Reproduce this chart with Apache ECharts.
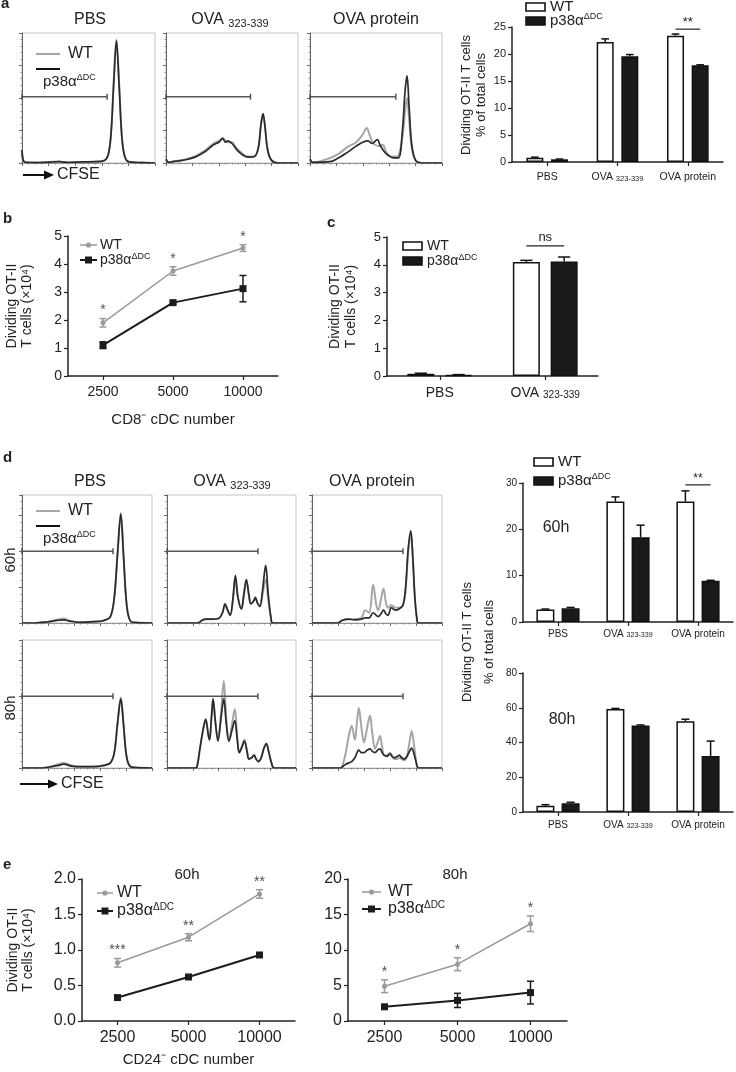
<!DOCTYPE html>
<html><head><meta charset="utf-8">
<script src="https://cdn.jsdelivr.net/npm/echarts@6/dist/echarts.min.js"></script>
<style>html,body{margin:0;padding:0;background:#fff}#c{width:736px;height:1072px}</style>
</head><body><div id="c"></div>
<script>
const FONT = '"Liberation Sans", Arial, sans-serif';
const WT_C = '#9a9a9a', KO_C = '#1c1c1c', TXT = '#222', HWT = '#a6a6a6', HKO = '#2a2a2a';

// ---------- categories / tick labels ----------
const HIST_TITLES = ['PBS', 'OVA 323-339', 'OVA protein'];
const BAR_CATS3 = ['PBS', 'OVA 323-339', 'OVA protein'];
const BAR_CATS2 = ['PBS', 'OVA 323-339'];
const DC_NUMBERS = ['2500', '5000', '10000'];

// ---------- panel a histograms (CFSE position, % of box height) ----------
const A_PBS_WT = [[0,10],[1,2],[3,0.5],[10,0.3],[20,0.8],[28,1.2],[35,0.5],[45,0.8],[55,1],[62,2],[65,7],[67,24],[69,64],[71,95],[73,62],[75,22],[77,6],[80,1],[90,0.3],[100,0]];
const A_PBS_KO = [[0,10],[1,2],[3,0.5],[10,0.3],[20,0.6],[28,1],[35,0.4],[45,0.8],[55,1],[62,2],[65,7],[67,23],[69,62],[71,94],[73,60],[75,21],[77,6],[80,1],[90,0.3],[100,0]];
const A_OVA_WT = [[0,3],[2,0.5],[5,1],[15,3],[22,5],[30,10],[36,15],[40,17],[43,19],[45,17],[47,16],[50,16],[53,12],[57,8],[62,5],[67,5],[70,12],[72,30],[73.5,37],[75,28],[77,10],[80,2],[85,0],[100,0]];
const A_OVA_KO = [[0,3],[2,0.5],[5,1],[15,2.5],[22,4.5],[30,9],[36,14],[40,16],[43,19],[45,16],[47,17],[50,15],[53,11],[57,7],[62,4.5],[67,5],[70,12],[72,30],[73.5,38],[75,28],[77,10],[80,2],[85,0],[100,0]];
const A_PROT_WT = [[0,3],[2,0.5],[10,2],[20,6],[28,12],[35,16],[40,22],[43,27],[45,22],[48,15],[52,13],[55,14],[58,8],[62,5],[66,5],[70,20],[72,40],[73.5,50],[75,35],[77,12],[80,2],[85,0],[100,0]];
const A_PROT_KO = [[0,3],[2,0.5],[15,1],[20,3],[28,8],[35,13],[40,16],[44,17],[47,15],[51,18],[53,14],[56,9],[59,6],[63,4],[67,4],[70,25],[72,55],[73.5,67],[75,45],[77,15],[80,2],[85,0],[100,0]];
const A_GATE_END = [64, 64, 65];
const A_GATE_LEVEL = 51;

// ---------- panel d histograms ----------
const D60_PBS_WT = [[0,0],[10,0],[20,1],[27,2.5],[32,3.5],[37,1.5],[45,0.5],[55,1],[63,2],[68,5],[71,20],[73.5,55],[76,86],[78,55],[80,20],[82,5],[85,0.5],[100,0]];
const D60_PBS_KO = [[0,0],[10,0],[20,1],[27,2],[32,2.5],[37,1.5],[45,0.5],[55,1],[63,2],[68,5],[71,20],[73.5,54],[76,85],[78,54],[80,20],[82,5],[85,0.5],[100,0]];
const D60_OVA_WT = [[0,0],[24,0],[27,2],[30,3],[35,3],[40,3.5],[43,8],[45,14],[47,10],[49,6],[51,17],[53,35],[55,20],[57.7,11],[59.5,21],[61.5,33],[63.5,21],[65,15],[67,17],[68.5,19],[70,16],[72,13],[74,22],[76.5,34],[78.5,18],[80.5,4],[82,0],[100,0]];
const D60_OVA_KO = [[0,0],[24,0],[27,2],[30,3],[35,3],[40,3.5],[43,8],[45,15],[47,10],[49,6],[51,18],[53,37],[55,20],[57.7,11],[59.5,22],[61.5,34],[63.5,22],[65,15],[67,17],[68.5,20],[70,16],[72,13],[74,25],[76.5,45],[78.5,22],[80.5,5],[82,0],[100,0]];
const D60_PROT_WT = [[0,0],[20,0],[23,2],[28,3],[33,3],[38,4],[41,10],[44,8],[47,30],[49.5,14],[51,10],[53,18],[55,27],[57,15],[58.5,12],[61,14],[64,12],[67,12],[70,14],[72,25],[74,55],[76,70],[77.5,52],[79,22],[80.5,5],[82,0],[100,0]];
const D60_PROT_KO = [[0,0],[20,0],[23,2],[28,3],[33,2.5],[38,3],[41,4],[44,4],[47,8],[49.5,6],[51,5],[53,7],[55,10],[57,7],[58.5,6],[61,12],[64,10],[67,11],[70,14],[72,28],[74,58],[76,72],[77.5,52],[79,22],[80.5,5],[82,0],[100,0]];
const D80_PBS_WT = [[0,0],[15,0],[22,1],[28,3],[32,4],[38,2],[45,1],[55,1],[63,2],[68,4],[71,12],[73.5,35],[76,55],[78,35],[80,12],[82,3],[85,0.5],[100,0]];
const D80_PBS_KO = [[0,0],[15,0],[22,1],[28,2],[32,3],[38,1.5],[45,1],[55,1],[63,2],[68,4],[71,12],[73.5,35],[76,54],[78,35],[80,12],[82,3],[85,0.5],[100,0]];
const D80_OVA_WT = [[0,0],[22,0],[23.5,2],[25.5,15],[28,30],[30,38],[32,26],[33,22],[34.5,40],[35.7,54],[37.5,36],[39.5,22],[42,45],[44,68],[46,38],[48,21],[50.5,35],[52.5,46],[54.5,24],[56,12],[58,17],[60,22],[62,14],[63.5,7],[65.5,8],[67.5,10],[69,7],[71,5],[73,8],[75,15],[77,19],[79,12],[81,4],[83,0],[100,0]];
const D80_OVA_KO = [[0,0],[22,0],[23.5,2],[25.5,15],[28,30],[30,38],[32,26],[33,22],[34.5,40],[35.7,54],[37.5,36],[39.5,21],[42,40],[44,54],[46,34],[48,21],[50.5,30],[52.5,37],[54.5,22],[56,12],[58,16],[60,21],[62,13],[63.5,7],[65.5,8],[67.5,10],[69,7],[71,5],[73,8],[75,15],[77,19],[79,12],[81,4],[83,0],[100,0]];
const D80_PROT_WT = [[0,0],[22,0],[23.5,2],[26,12],[28.5,26],[30.5,33],[33,22],[34.5,35],[36,47],[38,32],[40,20],[42.5,32],[44.6,41],[46.5,26],[48.5,15],[50.5,20],[52.3,25],[54,16],[55.4,10],[57.5,10],[60,12],[61.7,9],[63.4,7],[65.5,7],[67.2,8],[69,7],[71,6],[73,9],[75,20],[76.7,29],[78.5,18],[80,6],[82,0],[100,0]];
const D80_PROT_KO = [[0,0],[22,0],[23.5,1],[26,3],[28.5,4],[30.5,5],[33,8],[36,14],[38,12],[40,12],[42.5,14],[44.6,15],[46.5,13],[48.5,12],[50.5,14],[52.3,15],[54,12],[55.4,10],[57.5,9],[60,11],[61.7,9],[63.4,8],[65.5,9],[67.2,10],[69,8],[71,7],[73,9],[75,13],[76.7,15.5],[78.5,11],[80,5],[82,0],[100,0]];
const D_GATE_END = [70, 70.5, 70];
const D_GATE_LEVEL = 56;

// ---------- panel a bars ----------
const A_WT = [0.8, 22.2, 23.4];
const A_WT_ERR = [0.1, 0.6, 0.3];
const A_KO = [0.5, 19.6, 17.9];
const A_KO_ERR = [0.05, 0.3, 0.1];
const A_SIG = ['', '', '**'];
const A_SIG_LEVEL = [0, 0, 24.6];

// ---------- panel b ----------
const B_WT = [1.9, 3.75, 4.57];
const B_WT_ERR = [0.15, 0.15, 0.12];
const B_KO = [1.1, 2.62, 3.12];
const B_KO_ERR = [0.12, 0.05, 0.47];
const B_SIG = ['*', '*', '*'];

// ---------- panel c ----------
const C_WT = [0.08, 4.1];
const C_WT_ERR = [0.02, 0.06];
const C_KO = [0.04, 4.12];
const C_KO_ERR = [0.01, 0.16];
const C_SIG = ['', 'ns'];
const C_SIG_LEVEL = [0, 4.68];

// ---------- panel d bars ----------
const D60_WT = [2.7, 26.0, 26.0];
const D60_WT_ERR = [0.1, 1.0, 2.3];
const D60_KO = [2.95, 18.3, 8.9];
const D60_KO_ERR = [0.2, 2.6, 0.1];
const D60_SIG = ['', '', '**'];
const D60_SIG_LEVEL = [0, 0, 29.6];
const D80_WT = [3.6, 59.3, 52.2];
const D80_WT_ERR = [0.6, 0.3, 1.2];
const D80_KO = [5.0, 49.8, 32.2];
const D80_KO_ERR = [0.6, 0.3, 8.6];

// ---------- panel e ----------
const E60_WT = [0.82, 1.18, 1.79];
const E60_WT_ERR = [0.06, 0.05, 0.06];
const E60_KO = [0.33, 0.62, 0.93];
const E60_KO_ERR = [0.01, 0.01, 0.01];
const E60_SIG = ['***', '**', '**'];
const E80_WT = [4.9, 8.0, 13.7];
const E80_WT_ERR = [0.9, 0.9, 1.1];
const E80_KO = [2.0, 2.9, 4.0];
const E80_KO_ERR = [0.2, 1.0, 1.6];
const E80_SIG = ['*', '*', '*'];

// =====================================================
const grid = [], xAxis = [], yAxis = [], series = [], graphic = [];
const RICH = (n, s) => ({ n: { fontSize: n, fontFamily: FONT, color: TXT }, s: { fontSize: s, fontFamily: FONT, color: TXT, verticalAlign: 'bottom' } });
const catFmt = v => v === 'OVA 323-339' ? '{n|OVA }{s|323-339}' : '{n|' + v + '}';

function addHist(rect, wt, ko, gateEnd, gateLevel, yInt) {
  const gi = grid.length;
  grid.push({ left: rect[0], top: rect[1], width: rect[2], height: rect[3], show: true, borderColor: '#c4c4c4', borderWidth: 1 });
  xAxis.push({ gridIndex: gi, type: 'value', min: 0, max: 100, interval: 20,
    axisLine: { lineStyle: { color: '#888', width: 1, type: 'dotted' } },
    axisTick: { show: true, length: 3, lineStyle: { color: '#666' } },
    minorTick: { show: true, splitNumber: 4, length: 1.5, lineStyle: { color: '#888' } },
    axisLabel: { show: false }, splitLine: { show: false } });
  yAxis.push({ gridIndex: gi, type: 'value', min: 0, max: 100, interval: yInt,
    axisLine: { show: true, lineStyle: { color: '#666', width: 1 } },
    axisTick: { show: true, length: 3, lineStyle: { color: '#666' } },
    minorTick: { show: true, splitNumber: 5, length: 1.5, lineStyle: { color: '#999' } },
    axisLabel: { show: false }, splitLine: { show: false } });
  series.push({ type: 'line', xAxisIndex: gi, yAxisIndex: gi, data: wt, smooth: 0.35, symbol: 'none', lineStyle: { color: HWT, width: 2 }, z: 2, silent: true });
  series.push({ type: 'line', xAxisIndex: gi, yAxisIndex: gi, data: ko, smooth: 0.35, symbol: 'none', lineStyle: { color: HKO, width: 1.7 }, z: 3, silent: true });
  series.push({ type: 'line', xAxisIndex: gi, yAxisIndex: gi, data: [[0, gateLevel], [gateEnd, gateLevel]], symbol: 'rect', symbolSize: [1.5, 6],
    lineStyle: { color: '#555', width: 1.4 }, itemStyle: { color: '#555' }, z: 4, silent: true });
}

function errSeries(gi, vals, errs, offset, color, both, cap) {
  return { type: 'custom', xAxisIndex: gi, yAxisIndex: gi, silent: true, z: 6,
    data: vals.map((v, i) => [i, v, errs[i]]),
    renderItem(params, api) {
      const i = api.value(0), v = api.value(1), e = api.value(2);
      const c = api.coord([i, v]), t = api.coord([i, v + e]), b = api.coord([i, both ? v - e : v]);
      const x = c[0] + offset;
      const st = { stroke: color, lineWidth: 1.5 };
      const ch = [
        { type: 'line', shape: { x1: x, y1: b[1], x2: x, y2: t[1] }, style: st },
        { type: 'line', shape: { x1: x - cap / 2, y1: t[1], x2: x + cap / 2, y2: t[1] }, style: st }];
      if (both) ch.push({ type: 'line', shape: { x1: x - cap / 2, y1: b[1], x2: x + cap / 2, y2: b[1] }, style: st });
      return { type: 'group', children: ch };
    } };
}

function sigSeries(gi, labels, levels, offset, fs) {
  return { type: 'custom', xAxisIndex: gi, yAxisIndex: gi, silent: true, z: 7,
    data: levels.map((l, i) => [i, l]),
    renderItem(params, api) {
      const lab = labels[params.dataIndex];
      if (!lab) return null;
      const c = api.coord([api.value(0), api.value(1)]);
      return { type: 'group', children: [
        { type: 'line', shape: { x1: c[0] - offset, y1: c[1], x2: c[0] + offset, y2: c[1] }, style: { stroke: '#222', lineWidth: 1.2 } },
        { type: 'text', style: { text: lab, x: c[0], y: c[1] - (lab === 'ns' ? 2 : 0), align: 'center', verticalAlign: 'bottom', textAlign: 'center', textVerticalAlign: 'bottom', font: fs + 'px ' + FONT, fill: '#222' } }] };
    } };
}

function axisCommon() {
  return { axisLine: { show: true, lineStyle: { color: '#222', width: 1.5 } },
    axisTick: { show: true, length: 4, lineStyle: { color: '#222', width: 1.2 } },
    splitLine: { show: false } };
}

function addBar(rect, cats, wt, wtE, ko, koE, yMax, yInt, barW, gapPct, tickFs, catFs, sigL, sigLv, sigFs, xMargin) {
  const gi = grid.length;
  grid.push({ left: rect[0], top: rect[1], width: rect[2], height: rect[3] });
  xAxis.push(Object.assign(axisCommon(), { gridIndex: gi, type: 'category', data: cats,
    axisTick: { show: true, alignWithLabel: true, length: 4, lineStyle: { color: '#222', width: 1.2 } },
    axisLabel: { formatter: catFmt, rich: RICH(catFs, catFs * 0.72), margin: xMargin, interval: 0 } }));
  yAxis.push(Object.assign(axisCommon(), { gridIndex: gi, type: 'value', min: 0, max: yMax, interval: yInt,
    axisLabel: { fontSize: tickFs, color: TXT, fontFamily: FONT, margin: 6 } }));
  series.push({ type: 'bar', xAxisIndex: gi, yAxisIndex: gi, data: wt, barWidth: barW, barGap: gapPct + '%',
    itemStyle: { color: '#fff', borderColor: '#111', borderWidth: 1.5 }, silent: true, z: 3 });
  series.push({ type: 'bar', xAxisIndex: gi, yAxisIndex: gi, data: ko, barWidth: barW, barGap: gapPct + '%',
    itemStyle: { color: '#1a1a1a', borderColor: '#111', borderWidth: 1.5 }, silent: true, z: 3 });
  const off = (barW + barW * gapPct / 100) / 2;
  series.push(errSeries(gi, wt, wtE, -off, '#111', false, barW * 0.45));
  series.push(errSeries(gi, ko, koE, off, '#111', false, barW * 0.45));
  if (sigL) series.push(sigSeries(gi, sigL, sigLv, off, sigFs));
}

function addLine(rect, wt, wtE, ko, koE, yMax, yInt, sig, tickFs, yFmt, yName, yGap, xName, xGap, nameFs) {
  const gi = grid.length;
  grid.push({ left: rect[0], top: rect[1], width: rect[2], height: rect[3] });
  xAxis.push(Object.assign(axisCommon(), { gridIndex: gi, type: 'category', data: DC_NUMBERS, boundaryGap: true,
    axisTick: { show: true, alignWithLabel: true, length: 4, lineStyle: { color: '#222', width: 1.2 } },
    axisLabel: { fontSize: tickFs, color: TXT, fontFamily: FONT, margin: 9 },
    name: xName, nameLocation: 'middle', nameGap: xGap, nameTextStyle: { fontSize: nameFs, color: TXT, fontFamily: FONT } }));
  yAxis.push(Object.assign(axisCommon(), { gridIndex: gi, type: 'value', min: 0, max: yMax, interval: yInt,
    axisLabel: { fontSize: tickFs, color: TXT, fontFamily: FONT, margin: 6, formatter: yFmt },
    name: yName, nameLocation: 'middle', nameGap: yGap, nameRotate: 90,
    nameTextStyle: { fontSize: nameFs - 1, color: TXT, fontFamily: FONT, lineHeight: 15 } }));
  series.push({ type: 'line', xAxisIndex: gi, yAxisIndex: gi, data: wt, symbol: 'circle', symbolSize: 5,
    lineStyle: { color: WT_C, width: 1.5 }, itemStyle: { color: WT_C }, z: 3, silent: true });
  series.push({ type: 'line', xAxisIndex: gi, yAxisIndex: gi, data: ko, symbol: 'rect', symbolSize: 7,
    lineStyle: { color: KO_C, width: 2 }, itemStyle: { color: KO_C }, z: 4, silent: true });
  series.push(errSeries(gi, wt, wtE, 0, WT_C, true, 7));
  series.push(errSeries(gi, ko, koE, 0, KO_C, true, 7));
  series.push({ type: 'scatter', xAxisIndex: gi, yAxisIndex: gi, symbolSize: 0, silent: true, z: 8,
    data: wt.map((v, i) => [i, v + wtE[i]]),
    label: { show: true, position: 'top', distance: 1, fontSize: 14, color: '#222', fontFamily: FONT,
      formatter: p => sig[p.dataIndex] } });
}

// ---------- build ----------
const A_RECTS = [[22, 33, 133, 130], [166, 33, 132, 130], [310, 33, 132, 130]];
addHist(A_RECTS[0], A_PBS_WT, A_PBS_KO, A_GATE_END[0], A_GATE_LEVEL, 25);
addHist(A_RECTS[1], A_OVA_WT, A_OVA_KO, A_GATE_END[1], A_GATE_LEVEL, 25);
addHist(A_RECTS[2], A_PROT_WT, A_PROT_KO, A_GATE_END[2], A_GATE_LEVEL, 25);
const D_LEFTS = [[22, 130], [167, 129], [312, 130]];
addHist([D_LEFTS[0][0], 495, D_LEFTS[0][1], 128], D60_PBS_WT, D60_PBS_KO, D_GATE_END[0], D_GATE_LEVEL, 28);
addHist([D_LEFTS[1][0], 495, D_LEFTS[1][1], 128], D60_OVA_WT, D60_OVA_KO, D_GATE_END[1], D_GATE_LEVEL, 28);
addHist([D_LEFTS[2][0], 495, D_LEFTS[2][1], 128], D60_PROT_WT, D60_PROT_KO, D_GATE_END[2], D_GATE_LEVEL, 28);
addHist([D_LEFTS[0][0], 640, D_LEFTS[0][1], 128], D80_PBS_WT, D80_PBS_KO, D_GATE_END[0], D_GATE_LEVEL, 28);
addHist([D_LEFTS[1][0], 640, D_LEFTS[1][1], 128], D80_OVA_WT, D80_OVA_KO, D_GATE_END[1], D_GATE_LEVEL, 28);
addHist([D_LEFTS[2][0], 640, D_LEFTS[2][1], 128], D80_PROT_WT, D80_PROT_KO, D_GATE_END[2], D_GATE_LEVEL, 28);

addBar([512, 27, 211, 135], BAR_CATS3, A_WT, A_WT_ERR, A_KO, A_KO_ERR, 25, 5, 17, 45, 11, 10.5, A_SIG, A_SIG_LEVEL, 13, 10);
addBar([387, 237, 211, 139], BAR_CATS2, C_WT, C_WT_ERR, C_KO, C_KO_ERR, 5, 1, 27, 40, 13, 14, C_SIG, C_SIG_LEVEL, 13, 10);
addBar([523, 483, 210, 139], BAR_CATS3, D60_WT, D60_WT_ERR, D60_KO, D60_KO_ERR, 30, 10, 18, 40, 10, 10, D60_SIG, D60_SIG_LEVEL, 12, 7);
addBar([523, 673, 210, 139], BAR_CATS3, D80_WT, D80_WT_ERR, D80_KO, D80_KO_ERR, 80, 20, 18, 40, 10, 10, null, null, 12, 8);

addLine([68, 236, 210, 140], B_WT, B_WT_ERR, B_KO, B_KO_ERR, 5, 1, B_SIG, 14, null,
  'Dividing OT-II\nT cells (×10⁴)', 33, 'CD8⁻ cDC number', 36, 15);
addLine([82, 879, 213, 142], E60_WT, E60_WT_ERR, E60_KO, E60_KO_ERR, 2, 0.5, E60_SIG, 16, v => v.toFixed(1),
  'Dividing OT-II\nT cells (×10⁴)', 46, 'CD24⁻ cDC number', 31, 15);
addLine([348, 879, 219, 142], E80_WT, E80_WT_ERR, E80_KO, E80_KO_ERR, 20, 5, E80_SIG, 16, null,
  '', 40, '', 30, 15);

// c y-axis name
yAxis[10].name = 'Dividing OT-II\nT cells (×10⁴)';
yAxis[10].nameLocation = 'middle'; yAxis[10].nameRotate = 90; yAxis[10].nameGap = 28;
yAxis[10].nameTextStyle = { fontSize: 14, color: TXT, fontFamily: FONT, lineHeight: 16 };

// ---------- graphic texts ----------
function T(x, y, text, fs, opt) {
  opt = opt || {};
  const el = { type: 'text', x: x, y: y, rotation: opt.rot || 0, silent: true, z: 100,
    style: { text: text, font: (opt.bold ? 'bold ' : '') + fs + 'px ' + FONT, fill: TXT,
      align: opt.align || 'left', verticalAlign: opt.va || 'middle', textAlign: opt.align || 'left', textVerticalAlign: opt.va || 'middle' } };
  if (opt.rich) el.style.rich = opt.rich;
  return el;
}
const supRich = fs => ({ n: { fontSize: fs, fontFamily: FONT, fill: TXT, color: TXT, lineHeight: fs + 2 },
  s: { fontSize: Math.round(fs * 0.62), fontFamily: FONT, fill: TXT, color: TXT, verticalAlign: 'top', lineHeight: Math.round(fs * 0.62) } });
const subRich = fs => ({ n: { fontSize: fs, fontFamily: FONT, fill: TXT, color: TXT, lineHeight: fs + 2 },
  s: { fontSize: Math.round(fs * 0.68), fontFamily: FONT, fill: TXT, color: TXT, verticalAlign: 'bottom', lineHeight: Math.round(fs * 0.68) } });
const KO_LABEL = '{n|p38α}{s|ΔDC}';

// panel letters
graphic.push(T(1, 4, 'a', 15, { bold: true }));
graphic.push(T(3, 219, 'b', 15, { bold: true }));
graphic.push(T(327, 223, 'c', 15, { bold: true }));
graphic.push(T(3, 458, 'd', 15, { bold: true }));
graphic.push(T(3, 865, 'e', 15, { bold: true }));

// histogram titles
[[90, 20], [230, 20], [376, 20]].forEach((p, i) => {
  const t = HIST_TITLES[i] === 'OVA 323-339' ? '{n|OVA }{s|323-339}' : '{n|' + HIST_TITLES[i] + '}';
  graphic.push(T(p[0], p[1], t, 16, { align: 'center', rich: subRich(16) }));
});
[[90, 482], [232, 482], [372, 482]].forEach((p, i) => {
  const t = HIST_TITLES[i] === 'OVA 323-339' ? '{n|OVA }{s|323-339}' : '{n|' + HIST_TITLES[i] + '}';
  graphic.push(T(p[0], p[1], t, 16, { align: 'center', rich: subRich(16) }));
});

// histogram legends
function histLegend(y0) {
  graphic.push({ type: 'line', silent: true, z: 100, shape: { x1: 36, y1: y0, x2: 60, y2: y0 }, style: { stroke: HWT, lineWidth: 2 } });
  graphic.push(T(68, y0, 'WT', 16));
  graphic.push({ type: 'line', silent: true, z: 100, shape: { x1: 36, y1: y0 + 15, x2: 60, y2: y0 + 15 }, style: { stroke: '#111', lineWidth: 2 } });
  graphic.push(T(43, y0 + 28, KO_LABEL, 15, { rich: supRich(15) }));
}
histLegend(54);
histLegend(511);

// CFSE arrows
function cfse(x0, y0, len) {
  graphic.push({ type: 'line', silent: true, z: 100, shape: { x1: x0, y1: y0, x2: x0 + len, y2: y0 }, style: { stroke: '#111', lineWidth: 2 } });
  graphic.push({ type: 'polygon', silent: true, z: 100, shape: { points: [[x0 + len, y0 - 4.5], [x0 + len + 10, y0], [x0 + len, y0 + 4.5]] }, style: { fill: '#111' } });
  graphic.push(T(x0 + len + 13, y0, 'CFSE', 16));
}
cfse(23, 175, 21);
cfse(20, 784, 28);

// row labels
graphic.push(T(11, 560, '60h', 15, { rot: Math.PI / 2, align: 'center' }));
graphic.push(T(11, 708, '80h', 15, { rot: Math.PI / 2, align: 'center' }));

// bar y-axis names
graphic.push(T(466, 95, 'Dividing OT-II T cells', 13, { rot: Math.PI / 2, align: 'center' }));
graphic.push(T(481, 95, '% of total cells', 13, { rot: Math.PI / 2, align: 'center' }));
graphic.push(T(467, 642, 'Dividing OT-II T cells', 13, { rot: Math.PI / 2, align: 'center' }));
graphic.push(T(489, 642, '% of total cells', 13, { rot: Math.PI / 2, align: 'center' }));

// bar legends
function barLegend(x, y, fs, dy) {
  graphic.push({ type: 'rect', silent: true, z: 100, shape: { x: x, y: y - 4, width: 19, height: 8 }, style: { fill: '#fff', stroke: '#111', lineWidth: 1.6 } });
  graphic.push(T(x + 24, y, 'WT', fs));
  graphic.push({ type: 'rect', silent: true, z: 100, shape: { x: x, y: y + dy - 4, width: 19, height: 8 }, style: { fill: '#1a1a1a', stroke: '#111', lineWidth: 1.6 } });
  graphic.push(T(x + 24, y + dy, KO_LABEL, fs, { rich: supRich(fs) }));
}
barLegend(526, 7, 15, 14);
barLegend(403, 246, 14, 15);
barLegend(534, 462, 15, 19);

// line legends
function lineLegend(x1, x2, tx, y, dy, fs) {
  const xm = (x1 + x2) / 2;
  graphic.push({ type: 'line', silent: true, z: 100, shape: { x1: x1, y1: y, x2: x2, y2: y }, style: { stroke: WT_C, lineWidth: 1.5 } });
  graphic.push({ type: 'circle', silent: true, z: 100, shape: { cx: xm, cy: y, r: 2.6 }, style: { fill: WT_C } });
  graphic.push(T(tx, y, 'WT', fs));
  graphic.push({ type: 'line', silent: true, z: 100, shape: { x1: x1, y1: y + dy, x2: x2, y2: y + dy }, style: { stroke: KO_C, lineWidth: 2 } });
  graphic.push({ type: 'rect', silent: true, z: 100, shape: { x: xm - 3.5, y: y + dy - 3.5, width: 7, height: 7 }, style: { fill: KO_C } });
  graphic.push(T(tx, y + dy, KO_LABEL, fs, { rich: supRich(fs) }));
}
lineLegend(80, 97, 100, 245, 15, 14);
lineLegend(97, 113, 117, 893, 18, 16);
lineLegend(362, 381, 388, 892, 17, 16);

// sub-panel titles
graphic.push(T(556, 528, '60h', 16, { align: 'center' }));
graphic.push(T(562, 720, '80h', 16, { align: 'center' }));
graphic.push(T(187, 875, '60h', 15, { align: 'center' }));
graphic.push(T(455, 875, '80h', 15, { align: 'center' }));

const chart = echarts.init(document.getElementById('c'), null, { renderer: 'canvas', width: 736, height: 1072 });
chart.setOption({ animation: false, backgroundColor: '#fff', textStyle: { fontFamily: FONT },
  grid: grid, xAxis: xAxis, yAxis: yAxis, series: series, graphic: graphic });
</script></body></html>
